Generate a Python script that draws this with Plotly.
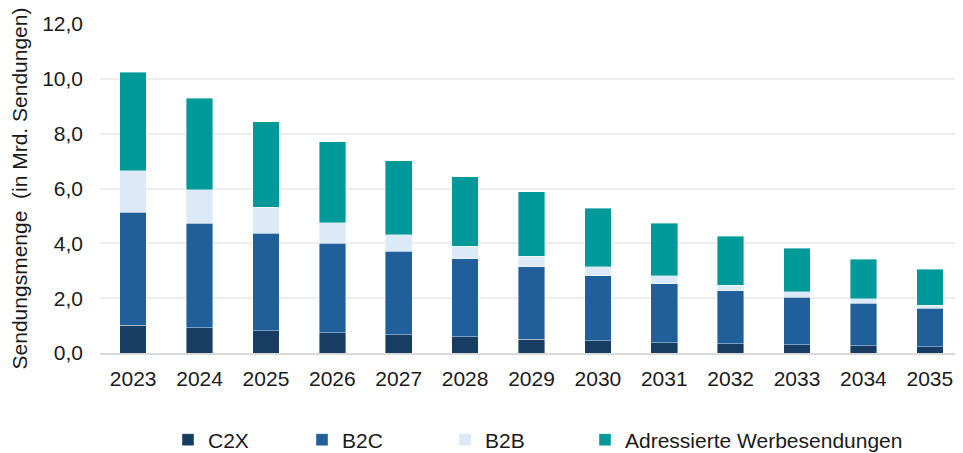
import plotly.graph_objects as go

years = ["2023", "2024", "2025", "2026", "2027", "2028", "2029", "2030", "2031", "2032", "2033", "2034", "2035"]
c2x = [1.02, 0.92, 0.81, 0.74, 0.67, 0.60, 0.51, 0.45, 0.38, 0.34, 0.30, 0.27, 0.23]
b2c = [4.11, 3.81, 3.56, 3.27, 3.04, 2.83, 2.63, 2.36, 2.14, 1.93, 1.74, 1.55, 1.41]
b2b = [1.52, 1.23, 0.95, 0.75, 0.60, 0.46, 0.39, 0.33, 0.29, 0.20, 0.19, 0.15, 0.11]
werbe = [3.59, 3.34, 3.11, 2.94, 2.70, 2.54, 2.36, 2.14, 1.92, 1.79, 1.59, 1.45, 1.30]

series = [
    ("C2X", c2x, "#173D63"),
    ("B2C", b2c, "#215F9A"),
    ("B2B", b2b, "#DCE9F6"),
    ("Adressierte Werbesendungen", werbe, "#009999"),
]
legend_ids = ["legend", "legend2", "legend3", "legend4"]
legend_x = [160, 294, 437, 577]

fig = go.Figure()
for (name, vals, col), lid in zip(series, legend_ids):
    fig.add_trace(go.Bar(
        x=years, y=vals, name=name, legend=lid, showlegend=True,
        marker=dict(color=col, line=dict(color="rgba(255,255,255,0.5)", width=0.8)),
    ))

font = "Liberation Sans, Arial, sans-serif"
W, H = 955, 445
legends = {}
for lid, lx in zip(legend_ids, legend_x):
    legends[lid] = dict(
        orientation="h",
        xref="container", yref="container",
        x=lx / W, y=1 - 432 / H, xanchor="left", yanchor="middle",
        font=dict(size=21),
        bgcolor="rgba(0,0,0,0)",
    )

fig.update_layout(
    showlegend=True,
    barmode="stack",
    bargap=0.6,
    width=W, height=H,
    margin=dict(l=92, r=0, t=16, b=100, autoexpand=False),
    paper_bgcolor="white",
    plot_bgcolor="white",
    font=dict(family=font, size=21, color="#1a1a1a"),
    separators=",.",
    yaxis=dict(
        range=[0, 12], dtick=2, tickformat=".1f",
        showgrid=True, gridcolor="#EEEEEE", gridwidth=2,
        zeroline=False, ticks="", ticklabelstandoff=16,
        title=dict(text="Sendungsmenge  (in Mrd. Sendungen)", font=dict(size=21), standoff=10),
    ),
    xaxis=dict(
        showline=True, linecolor="#D9D9D9", linewidth=2,
        ticks="", tickfont=dict(size=21), ticklabelstandoff=6,
    ),
    **legends,
)

fig.write_html("out.html")
